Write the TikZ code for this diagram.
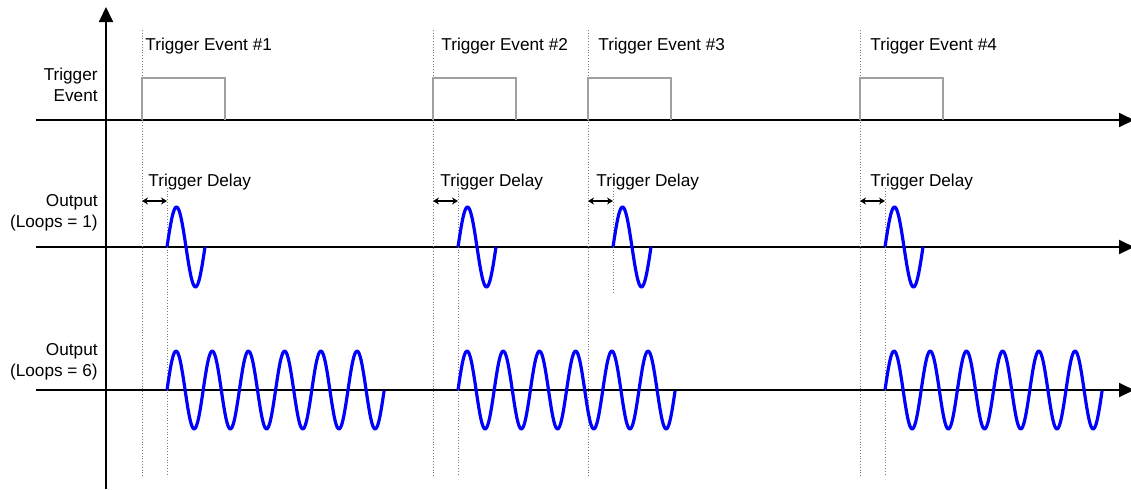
\documentclass[tikz,border=0pt]{standalone}
\usepackage{fontspec}
\setmainfont{Liberation Sans}
\usetikzlibrary{arrows.meta,positioning}
\definecolor{Pulse}{HTML}{A0A0A0}
\definecolor{Wave}{HTML}{0000FF}
\definecolor{Guide}{HTML}{7A7A7A}

\begin{document}
\begin{tikzpicture}[x=0.5pt,y=-0.5pt,
  axis/.style={line width=1pt,-{Triangle[length=7.5pt,width=7pt]}},
  guide/.style={Guide,densely dotted,line width=0.4pt},
  pulse/.style={Pulse,line width=1pt},
  wave/.style={Wave,line width=1.6pt,line join=round},
  lab/.style={font=\fontsize{8.6}{10.5}\selectfont,inner sep=0pt},
  delay/.style={line width=0.8pt,{Stealth[length=3pt,width=3.5pt]}-{Stealth[length=3pt,width=3.5pt]}}]
  \useasboundingbox (0,0) rectangle (1131,489);
  \def\pone{38}
  \def\psix{36.2}
  % axes
  \draw[axis] (106,489) -- (106,7);
  \foreach \r/\y in {ev/120,one/247,six/390}
    \draw[axis] (36,\y) -- (1134,\y);
  % row labels
  \node[lab,align=right,anchor=east] (rowev) at (98,85) {Trigger\\Event};
  \node[lab,align=right,anchor=east] (rowone) at (98,213) {Output\\(Loops = 1)};
  \node[lab,align=right,anchor=east] (rowsix) at (98,362) {Output\\(Loops = 6)};
  % trigger events, delays and single loops
  \foreach \n/\t/\lx/\dx/\dl in {1/142/145/148/476,2/433/441/440/476,
                                 3/588/598/596/293,4/860/870/870/476} {
    \pgfmathsetmacro\d{\t+25}
    \draw[guide] (\t,30) -- (\t,476);
    \draw[guide] (\d,188) -- (\d,\dl);
    \node[lab,anchor=west] (ev\n) at (\lx,46) {Trigger Event \#\n};
    \node[lab,anchor=west] (td\n) at (\dx,182) {Trigger Delay};
    \draw[pulse] (\t,120) -- (\t,78) -- ({\t+83},78) -- ({\t+83},120);
    \coordinate (da\n) at (\t,201);
    \coordinate (db\n) at (\d,201);
    \draw[delay] (da\n) -- (db\n);
    \draw[wave] plot[domain=0:1,samples=40,smooth] ({\d+\pone*\x},{247-40*sin(360*\x)});
  }
  % six loops
  \foreach \d in {167,458,885}
    \draw[wave] plot[domain=0:6,samples=200,smooth] ({\d+\psix*\x},{390-39*sin(360*\x)});
\end{tikzpicture}
\end{document}
